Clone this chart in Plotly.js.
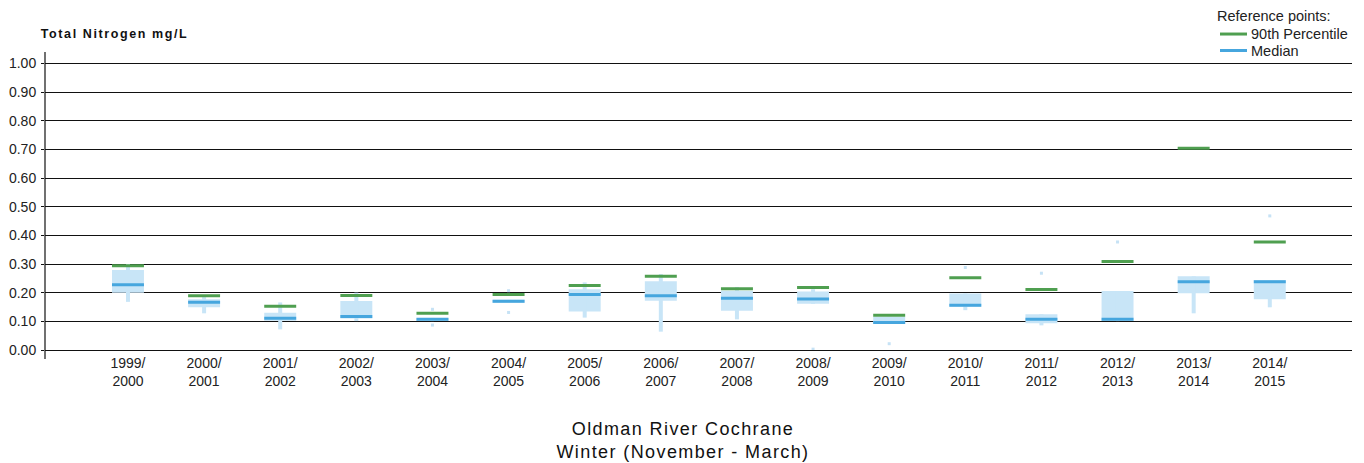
<!DOCTYPE html>
<html>
<head>
<meta charset="utf-8">
<script src="https://cdn.plot.ly/plotly-3.0.1.min.js"></script>
<style>
  html, body { margin: 0; padding: 0; background: #fff; }
  #chart { width: 1364px; height: 463px; }
  .annotation[data-index="0"] text { letter-spacing: 1.6px; }
  .gtitle { letter-spacing: 1.4px; }
</style>
</head>
<body>
<div id="chart"></div>
<script>
// Winter total nitrogen summaries (mg/L), one entry per season
const seasons = ["1999/2000", "2000/2001", "2001/2002", "2002/2003", "2003/2004", "2004/2005",
                 "2005/2006", "2006/2007", "2007/2008", "2008/2009", "2009/2010", "2010/2011",
                 "2011/2012", "2012/2013", "2013/2014", "2014/2015"];

const percentile90 = [0.294, 0.189, 0.153, 0.190, 0.128, 0.194, 0.225, 0.257,
                      0.214, 0.218, 0.121, 0.252, 0.211, 0.309, 0.704, 0.377];
const median       = [0.228, 0.167, 0.111, 0.117, 0.107, 0.170, 0.194, 0.189,
                      0.181, 0.178, 0.096, 0.156, 0.107, 0.107, 0.238, 0.238];
const quartile75   = [0.279, 0.177, 0.130, 0.171, 0.112, 0.175, 0.212, 0.240,
                      0.207, 0.204, 0.116, 0.197, 0.125, 0.206, 0.257, 0.244];
const quartile25   = [0.200, 0.149, 0.102, 0.110, 0.101, 0.164, 0.134, 0.172,
                      0.137, 0.161, 0.091, 0.151, 0.093, 0.101, 0.198, 0.177];
const whiskerHigh  = [0.300, 0.190, 0.166, 0.200, 0.112, 0.175, 0.236, 0.265,
                      0.220, 0.212, 0.116, 0.197, 0.125, 0.206, 0.257, 0.244];
const whiskerLow   = [0.168, 0.128, 0.072, 0.101, 0.101, 0.164, 0.113, 0.064,
                      0.107, 0.161, 0.091, 0.139, 0.086, 0.101, 0.128, 0.149];

// Individual values lying outside the whiskers
const outlierSeason = ["2003/2004", "2003/2004", "2004/2005", "2004/2005", "2008/2009",
                       "2009/2010", "2010/2011", "2011/2012", "2012/2013", "2014/2015"];
const outlierValue  = [0.142, 0.087, 0.207, 0.131, 0.003, 0.022, 0.288, 0.268, 0.377, 0.468];

const yTicks = [0, 0.1, 0.2, 0.3, 0.4, 0.5, 0.6, 0.7, 0.8, 0.9, 1.0];

const FONT = '"Liberation Sans", Arial, sans-serif';
const BOX_FILL = '#c8e5f7';
const MEDIAN_BLUE = '#46a6de';
const P90_GREEN = '#4f9f50';
const BOX_W = 0.42;
const HALF = BOX_W / 2;

// plot frame in pixels, used to place the key and headings in paper units
const W = 1364, H = 463, ML = 45, MR = 12, MT = 51.5, MB = 113;
const PW = W - ML - MR, PH = H - MT - MB;
const px = X => (X - ML) / PW;
const py = Y => (H - MB - Y) / PH;

const idx = seasons.map((_, i) => i);

// horizontal reference segments centred on each season
function segments(vals) {
  const xs = [], ys = [];
  vals.forEach((v, i) => { xs.push(i - HALF, i + HALF, null); ys.push(v, v, null); });
  return { x: xs, y: ys };
}
function whiskers() {
  const xs = [], ys = [];
  idx.forEach(i => { xs.push(i, i, null); ys.push(whiskerLow[i], whiskerHigh[i], null); });
  return { x: xs, y: ys };
}

const w = whiskers();
const p90 = segments(percentile90);
const med = segments(median);

const traces = [
  { type: 'scatter', mode: 'lines', x: w.x, y: w.y, hoverinfo: 'skip',
    line: { color: BOX_FILL, width: 4 } },
  { type: 'bar', x: idx, base: quartile25, y: quartile75.map((v, i) => v - quartile25[i]),
    width: BOX_W, marker: { color: BOX_FILL, line: { width: 0 } }, hoverinfo: 'skip' },
  { type: 'scatter', mode: 'markers', x: outlierSeason.map(s => seasons.indexOf(s)), y: outlierValue,
    marker: { color: '#c6e2f5', size: 3, symbol: 'square' }, hoverinfo: 'skip' },
  { type: 'scatter', mode: 'lines', name: '90th Percentile', x: p90.x, y: p90.y,
    line: { color: P90_GREEN, width: 3 } },
  { type: 'scatter', mode: 'lines', name: 'Median', x: med.x, y: med.y,
    line: { color: MEDIAN_BLUE, width: 3 } }
];

// key in the top-right corner
const keyRows = [
  { label: '90th Percentile', color: P90_GREEN, y: 33.5 },
  { label: 'Median', color: MEDIAN_BLUE, y: 50 }
];

const shapes = [
  // vertical axis line, running a little past both ends of the grid
  { type: 'line', xref: 'paper', yref: 'paper', x0: 0, x1: 0, y0: py(359), y1: 1,
    line: { color: '#111', width: 1.2 } }
].concat(keyRows.map(r => ({
  type: 'line', xref: 'paper', yref: 'paper', x0: px(1220), x1: px(1247), y0: py(r.y), y1: py(r.y),
  line: { color: r.color, width: 3 }
})));

const annotations = [
  { text: '<b>Total Nitrogen mg/L</b>', xref: 'paper', yref: 'paper',
    x: px(54), y: py(33), xanchor: 'left', yanchor: 'middle',
    showarrow: false, font: { family: FONT, size: 12.5, color: '#111' } },
  { text: 'Reference points:', xref: 'paper', yref: 'paper',
    x: px(1215), y: py(15.5), xanchor: 'left', yanchor: 'middle',
    showarrow: false, font: { family: FONT, size: 14.5, color: '#222' } }
].concat(keyRows.map(r => ({
  text: r.label, xref: 'paper', yref: 'paper', x: px(1249), y: py(r.y),
  xanchor: 'left', yanchor: 'middle', showarrow: false,
  font: { family: FONT, size: 14.5, color: '#222' }
})));

const layout = {
  width: W, height: H,
  margin: { l: ML, r: MR, t: MT, b: MB, autoexpand: false },
  paper_bgcolor: '#fff', plot_bgcolor: '#fff',
  font: { family: FONT, size: 14, color: '#222' },
  barmode: 'overlay',
  showlegend: false,
  title: {
    text: 'Oldman River Cochrane<br>Winter (November - March)',
    font: { family: FONT, size: 18, color: '#111' },
    xref: 'container', yref: 'container', x: 683 / W, xanchor: 'center',
    y: 1 - 435 / H, yanchor: 'middle'
  },
  xaxis: {
    range: [-1.09, 16.08], tickvals: idx,
    ticktext: seasons.map(s => s.replace('/', '/<br>')),
    showgrid: false, zeroline: false, showline: false, ticks: '',
    ticklabelstandoff: 3,
    tickfont: { size: 14, color: '#222' }, fixedrange: true
  },
  yaxis: {
    range: [0, 1.04], tickvals: yTicks, ticktext: yTicks.map(v => v.toFixed(2)),
    showgrid: true, gridcolor: '#111', gridwidth: 1,
    zeroline: true, zerolinecolor: '#111', zerolinewidth: 1,
    showline: false, ticks: 'outside', ticklen: 3, tickcolor: '#111',
    ticklabelstandoff: 2,
    tickfont: { size: 14, color: '#222' }, fixedrange: true
  },
  shapes: shapes,
  annotations: annotations
};

Plotly.newPlot('chart', traces, layout, { staticPlot: true, displayModeBar: false });
</script>
</body>
</html>
